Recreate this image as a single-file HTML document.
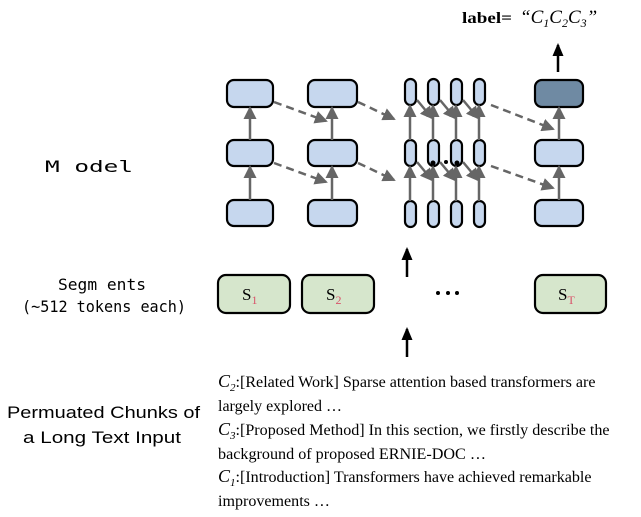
<!DOCTYPE html>
<html><head><style>
body{margin:0;background:#fff;width:641px;height:517px;overflow:hidden}
svg{display:block}
.sf{font-family:"Liberation Serif",serif}
.ss{font-family:"Liberation Sans",sans-serif}
.mn{font-family:"DejaVu Sans Mono","Liberation Mono",monospace}
</style></head><body>
<svg width="641" height="517" viewBox="0 0 641 517" xmlns="http://www.w3.org/2000/svg">
<defs>
<marker id="gb" markerWidth="13" markerHeight="13" refX="11" refY="6.5" orient="auto" markerUnits="userSpaceOnUse"><path d="M0,0 L13,6.5 L0,13z" fill="#666"/></marker>
<marker id="k" markerWidth="13" markerHeight="13" refX="11" refY="6.5" orient="auto" markerUnits="userSpaceOnUse"><path d="M0,1 L13,6.5 L0,12z" fill="#000"/></marker>
</defs>
<g fill="#c6d7ee" stroke="#000" stroke-width="2.2">
<rect x="227" y="80" width="46" height="27" rx="7"/><rect x="227" y="140" width="46" height="26" rx="7"/><rect x="227" y="200" width="46" height="26" rx="7"/>
<rect x="308" y="80" width="49" height="27" rx="7"/><rect x="308" y="140" width="49" height="26" rx="7"/><rect x="308" y="200" width="49" height="26" rx="7"/>
<rect x="535" y="80" width="48" height="27" rx="7" fill="#6f8aa3"/><rect x="535" y="140" width="48" height="26" rx="7"/><rect x="535" y="200" width="48" height="26" rx="7"/>
<rect x="405" y="79" width="11" height="26" rx="5.5"/><rect x="428" y="79" width="11" height="26" rx="5.5"/><rect x="451" y="79" width="11" height="26" rx="5.5"/><rect x="474" y="79" width="11" height="26" rx="5.5"/>
<rect x="405" y="140" width="11" height="26" rx="5.5"/><rect x="428" y="140" width="11" height="26" rx="5.5"/><rect x="451" y="140" width="11" height="26" rx="5.5"/><rect x="474" y="140" width="11" height="26" rx="5.5"/>
<rect x="405" y="201" width="11" height="26" rx="5.5"/><rect x="428" y="201" width="11" height="26" rx="5.5"/><rect x="451" y="201" width="11" height="26" rx="5.5"/><rect x="474" y="201" width="11" height="26" rx="5.5"/>
</g>
<g stroke="#666" stroke-width="2.5" marker-end="url(#gb)">
<line x1="250" y1="200" x2="250" y2="167"/><line x1="250" y1="140" x2="250" y2="108"/>
<line x1="332" y1="200" x2="332" y2="167"/><line x1="332" y1="140" x2="332" y2="108"/>
<line x1="559" y1="200" x2="559" y2="167"/><line x1="559" y1="140" x2="559" y2="108"/>
<line x1="410" y1="201" x2="410" y2="167"/><line x1="410" y1="140" x2="410" y2="106"/>
<line x1="433" y1="201" x2="433" y2="167"/><line x1="433" y1="140" x2="433" y2="106"/>
<line x1="456" y1="201" x2="456" y2="167"/><line x1="456" y1="140" x2="456" y2="106"/>
<line x1="479" y1="201" x2="479" y2="167"/><line x1="479" y1="140" x2="479" y2="106"/>
</g>
<g stroke="#666" stroke-width="2.5" stroke-dasharray="8,5" marker-end="url(#gb)">
<line x1="274" y1="102" x2="326" y2="121"/><line x1="274" y1="163" x2="326" y2="182"/>
<line x1="358" y1="102" x2="394" y2="119"/><line x1="358" y1="163" x2="394" y2="180"/>
<line x1="491" y1="105" x2="553" y2="129"/><line x1="491" y1="166" x2="553" y2="188"/>
</g>
<g stroke="#666" stroke-width="2.5" marker-end="url(#gb)">
<line x1="417" y1="100" x2="432" y2="118"/><line x1="440" y1="100" x2="455" y2="118"/><line x1="463" y1="100" x2="478" y2="118"/>
<line x1="417" y1="162" x2="432" y2="180"/><line x1="440" y1="162" x2="455" y2="180"/><line x1="463" y1="162" x2="478" y2="180"/>
</g>
<g fill="#000"><circle cx="433" cy="163" r="2.5"/><circle cx="446" cy="162" r="2"/><circle cx="457" cy="163" r="2.5"/></g>
<line x1="558" y1="72" x2="558" y2="45" stroke="#000" stroke-width="2.5" marker-end="url(#k)"/>
<line x1="407" y1="277" x2="407" y2="249" stroke="#000" stroke-width="2.5" marker-end="url(#k)"/>
<line x1="407" y1="357" x2="407" y2="329" stroke="#000" stroke-width="2.5" marker-end="url(#k)"/>
<text x="462" y="23" class="sf" font-size="16" font-weight="bold" textLength="50" lengthAdjust="spacingAndGlyphs">label=</text>
<text x="520" y="23" class="sf" font-size="19" font-style="italic">“C<tspan font-size="12" dy="4">1</tspan><tspan dy="-4">C</tspan><tspan font-size="12" dy="4">2</tspan><tspan dy="-4">C</tspan><tspan font-size="12" dy="4">3</tspan><tspan dy="-4">”</tspan></text>
<text x="45" y="172" class="mn" font-size="16" textLength="88" lengthAdjust="spacingAndGlyphs">M odel</text>
<g fill="#d6e6cc" stroke="#000" stroke-width="2.2">
<rect x="218" y="275" width="72" height="38" rx="8"/><rect x="302" y="275" width="72" height="38" rx="8"/><rect x="535" y="275" width="71" height="38" rx="8"/>
</g>
<g class="sf" font-size="17">
<text x="242" y="300">S<tspan fill="#d9536a" font-size="12" dy="4">1</tspan></text>
<text x="326" y="300">S<tspan fill="#d9536a" font-size="12" dy="4">2</tspan></text>
<text x="558" y="300">S<tspan fill="#d9536a" font-size="12" dy="4">T</tspan></text>
</g>
<g fill="#000"><circle cx="438" cy="293" r="2"/><circle cx="448" cy="293" r="2"/><circle cx="457" cy="293" r="2"/></g>
<text x="58" y="290" class="mn" font-size="16" textLength="88" lengthAdjust="spacingAndGlyphs">Segm ents</text>
<text x="22" y="312" class="mn" font-size="16" textLength="164" lengthAdjust="spacingAndGlyphs">(~512 tokens each)</text>
<text x="7" y="418" class="ss" font-size="17" textLength="193" lengthAdjust="spacingAndGlyphs">Permuated Chunks of</text>
<text x="23" y="443" class="ss" font-size="17" textLength="158" lengthAdjust="spacingAndGlyphs">a Long Text Input</text>
<g class="sf" font-size="16">
<text x="218" y="387"><tspan font-style="italic" font-size="18">C</tspan><tspan font-style="italic" font-size="11" dy="4">2</tspan><tspan dy="-4" textLength="360" lengthAdjust="spacingAndGlyphs">:[Related Work] Sparse attention based transformers are</tspan></text>
<text x="218" y="411" textLength="124" lengthAdjust="spacingAndGlyphs">largely explored …</text>
<text x="218" y="435"><tspan font-style="italic" font-size="18">C</tspan><tspan font-style="italic" font-size="11" dy="4">3</tspan><tspan dy="-4" textLength="374" lengthAdjust="spacingAndGlyphs">:[Proposed Method] In this section, we firstly describe the</tspan></text>
<text x="218" y="459" textLength="268" lengthAdjust="spacingAndGlyphs">background of proposed ERNIE-DOC …</text>
<text x="218" y="482"><tspan font-style="italic" font-size="18">C</tspan><tspan font-style="italic" font-size="11" dy="4">1</tspan><tspan dy="-4" textLength="356" lengthAdjust="spacingAndGlyphs">:[Introduction] Transformers have achieved remarkable</tspan></text>
<text x="218" y="506" textLength="112" lengthAdjust="spacingAndGlyphs">improvements …</text>
</g>
</svg>
</body></html>
